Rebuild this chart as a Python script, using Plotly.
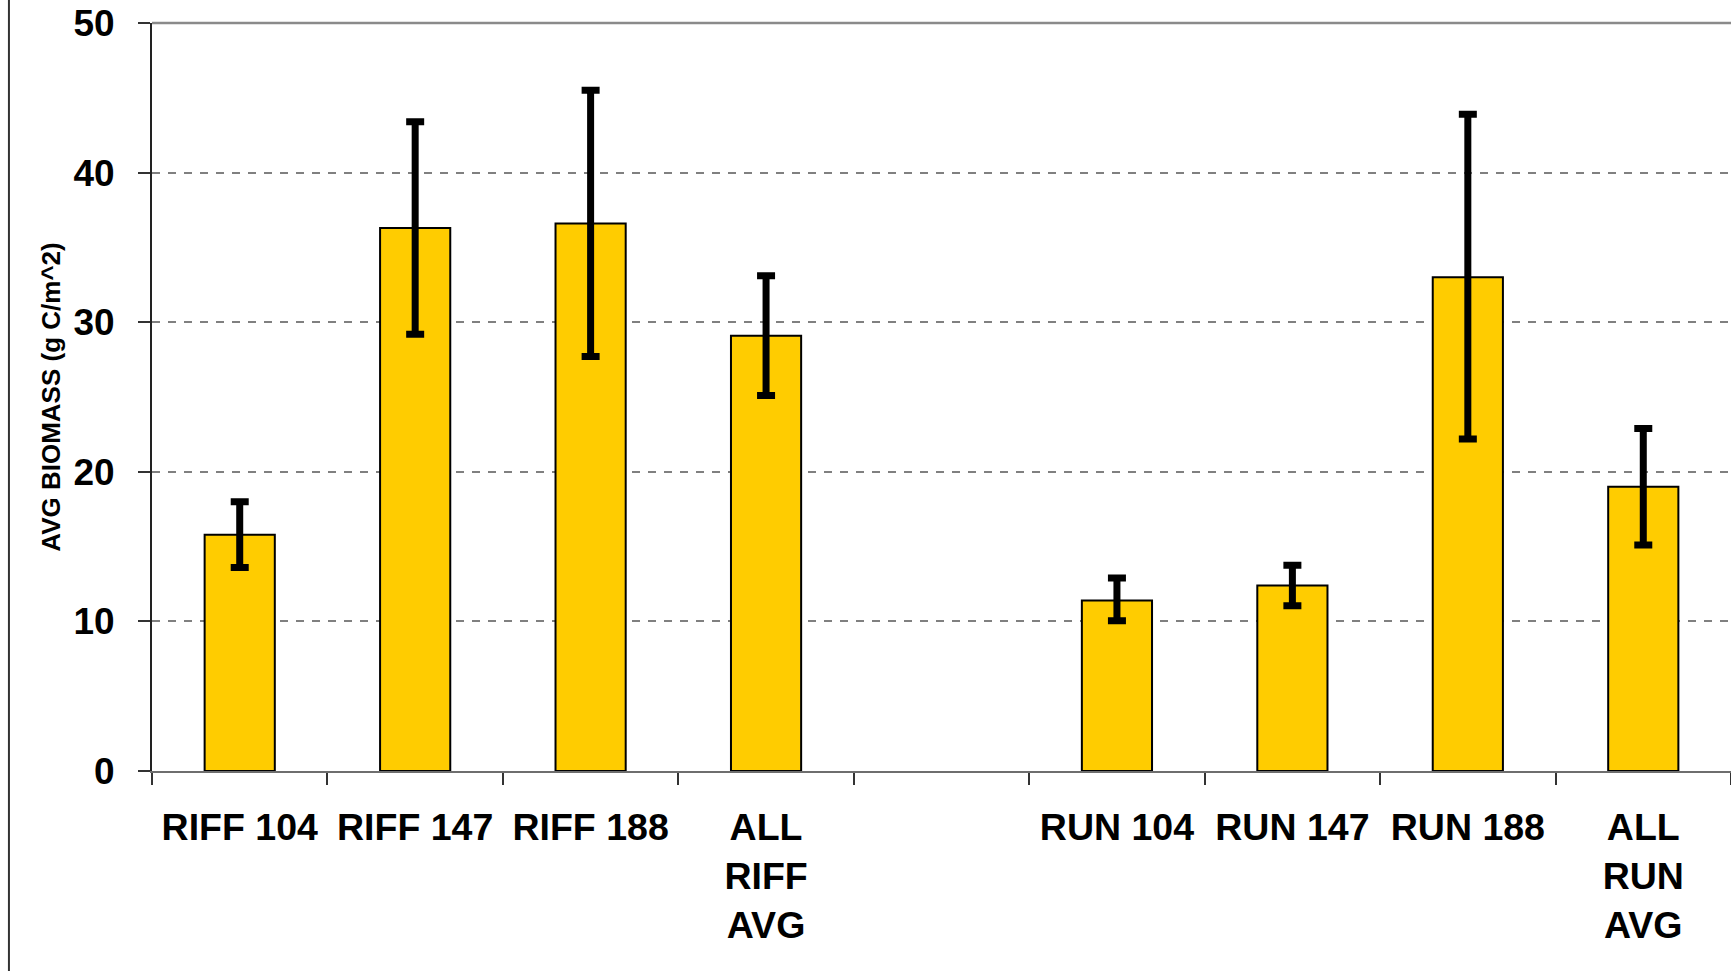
import plotly.graph_objects as go

categories = ["RIFF 104", "RIFF 147", "RIFF 188", "ALL<br>RIFF<br>AVG", " ",
              "RUN 104", "RUN 147", "RUN 188", "ALL<br>RUN<br>AVG"]
avg_biomass = [15.8, 36.3, 36.6, 29.1, None, 11.4, 12.4, 33.0, 19.0]
err_plus = [2.2, 7.1, 8.9, 4.0, None, 1.5, 1.35, 10.9, 3.9]
err_minus = [2.2, 7.1, 8.9, 4.0, None, 1.35, 1.35, 10.8, 3.9]
y_ticks = [0, 10, 20, 30, 40, 50]

FONT = "Liberation Sans, Arial, sans-serif"

fig = go.Figure()
fig.add_trace(go.Bar(
    x=categories,
    y=avg_biomass,
    width=0.40,
    marker=dict(color="#FFCC00", line=dict(color="#000000", width=2)),
    error_y=dict(type="data", array=err_plus, arrayminus=err_minus,
                 symmetric=False, color="#000000", thickness=7, width=9),
    hoverinfo="x+y",
))

fig.update_layout(
    width=1731, height=971,
    margin=dict(l=152, r=0, t=23, b=200, pad=0),
    paper_bgcolor="white", plot_bgcolor="white",
    showlegend=False,
    font=dict(family=FONT, color="#000000"),
)

fig.update_xaxes(
    type="category",
    categoryorder="array", categoryarray=categories,
    range=[-0.5, 8.5],
    showline=True, linecolor="#6e6e6e", linewidth=2,
    ticks="outside", ticklen=12, tickcolor="#333333", tickwidth=1.5,
    tickson="boundaries",
    tickfont=dict(family=FONT, size=37.5, weight="bold", color="#000000"),
    ticklabelstandoff=22,
    showgrid=False, zeroline=False,
)

fig.update_yaxes(
    range=[0, 50],
    tickvals=y_ticks,
    showline=True, linecolor="#222222", linewidth=2,
    ticks="outside", ticklen=12, tickcolor="#333333", tickwidth=1.5,
    tickfont=dict(family=FONT, size=37, weight="bold", color="#000000"),
    ticklabelstandoff=16,
    showgrid=True, gridcolor="#808080", gridwidth=1.5, griddash="8px,8px",
    zeroline=False,
    title=dict(text="AVG BIOMASS (g C/m^2)",
               font=dict(family=FONT, size=26, weight="bold", color="#000000"),
               standoff=5),
)

# solid top border line at the top of the plot area
fig.add_shape(type="line", xref="paper", yref="paper", x0=0, x1=1, y0=1, y1=1,
              line=dict(color="#8a8a8a", width=2.5), layer="above")
# left chart-area border
fig.add_shape(type="line", xref="paper", yref="paper", x0=-0.0906, x1=-0.0906,
              y0=-0.4, y1=1.2, line=dict(color="#333333", width=2))

fig.write_html("out.html",
               config={"displayModeBar": False},
               post_script="document.body.style.margin='0';")
